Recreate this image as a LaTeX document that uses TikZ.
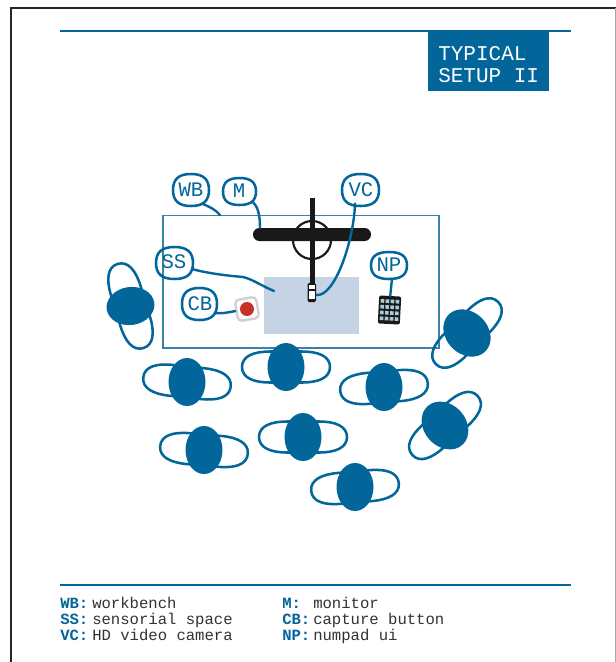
\documentclass[tikz,border=0pt]{standalone}
\usepackage{fontspec}
\setmonofont{Liberation Mono}
\definecolor{sblue}{HTML}{02669A}
\definecolor{rblue}{HTML}{3A80A8}
\definecolor{sens}{HTML}{C5D3E5}
\definecolor{txt}{HTML}{333333}
\definecolor{bred}{HTML}{C8302A}
\newcommand\blobshape[4]{%
  \pgfmathsetmacro\bxm{(#1+#3)/2}\pgfmathsetmacro\bym{(#2+#4)/2}%
  \pgfmathsetmacro\bdx{(#3-#1)*0.34}\pgfmathsetmacro\bdy{(#4-#2)*0.34}%
  \draw[blob] (#1,\bym) .. controls (#1,\bym-\bdy) and (\bxm-\bdx,#2) .. (\bxm,#2)
    .. controls (\bxm+\bdx,#2) and (#3,\bym-\bdy) .. (#3,\bym)
    .. controls (#3,\bym+\bdy) and (\bxm+\bdx,#4) .. (\bxm,#4)
    .. controls (\bxm-\bdx,#4) and (#1,\bym+\bdy) .. (#1,\bym) -- cycle;}
\tikzset{
  x=0.75pt,y=-0.75pt,
  pics/person/.style n args={3}{code={
    \draw[sblue,line width=1.9pt] (-44,0) .. controls (-44,-11) and (-32,-15.5) .. (-16,-15.5) -- (16,-15.5)
      .. controls (32,-15.5) and (44,-11) .. (44,0) .. controls (44,11) and (32,15.5) .. (16,15.5) -- (-16,15.5)
      .. controls (-32,15.5) and (-44,11) .. (-44,0) -- cycle;
    \fill[sblue,rotate=#1] (0,0) ellipse [x radius=#2,y radius=#3];
  }},
  lead/.style={sblue,line width=1.8pt,line cap=round},
  blob/.style={sblue,line width=1.9pt},
  tag/.style={text=sblue,font=\ttfamily\fontsize{15.5pt}{15.5pt}\selectfont,inner sep=0pt,minimum width=28pt,minimum height=20pt},
  titletext/.style={text=white,font=\ttfamily\fontsize{15.75pt}{15.75pt}\selectfont,inner sep=0pt,anchor=base west},
  legkey/.style={text=sblue,font=\ttfamily\bfseries\fontsize{11.7pt}{11.7pt}\selectfont,inner sep=0pt,anchor=base west},
  legval/.style={text=txt,font=\ttfamily\fontsize{11.7pt}{11.7pt}\selectfont,inner sep=0pt,anchor=base west},
}
\begin{document}
\begin{tikzpicture}
\useasboundingbox (0,0) rectangle (616,662);
\fill[white] (0,0) rectangle (616,662);
% page frame
\draw[black!85,line width=1.3pt] (11,662) -- (11,8) -- (616,8);
\draw[black!35,line width=0.6pt] (615,8) -- (615,662);
% header and footer
\draw[sblue,line width=2pt] (60,31) -- (571,31);
\fill[sblue] (428,31) rectangle (549,91);
\node[titletext] (t1) at (438,60) {TYPICAL};
\node[titletext] (t2) at (438,82) {SETUP II};
\draw[sblue,line width=2pt] (60,585) -- (571,585);
% workbench and contents
\fill[sens] (264,277) rectangle (359,333.5);
\draw[rblue,line width=1.2pt] (163,215.5) rectangle (439,348);
\draw[black!90,line width=1.6pt] (312,240) circle [radius=19];
\fill[black!90,rounded corners=4.8pt] (253,228) rectangle (371,241);
\fill[black!90] (309.7,198) rectangle (314.5,284);
% camera
\fill[black!90,rounded corners=1pt] (307.5,283) rectangle (316,302);
\fill[white] (308.7,284.5) rectangle (314.8,289);
\fill[white] (308.7,290.5) rectangle (314.8,298.5);
\coordinate (cam) at (316.5,295);
% capture button
\node[draw=black!18,line width=1.8pt,fill=white,rounded corners=3pt,minimum size=16pt,rotate=10,inner sep=0pt] (btn) at (247,309) {};
\node[circle,fill=bred,minimum size=10.5pt,inner sep=0pt] (dot) at (247,309) {};
% numpad
\begin{scope}[shift={(389.5,310)},rotate=-3]
  \fill[black!90,rounded corners=1.5pt] (-11,-14) rectangle (11,14);
  \foreach \i in {-1.5,-0.5,0.5,1.5}
    \foreach \j in {-1.5,-0.5,0.5,1.5}
      \fill[sblue!35!white] ({\i*5-1.8},{\j*5.8-1.8}) rectangle ({\i*5+1.8},{\j*5.8+1.8});
  \coordinate (pad) at (0,-14);
\end{scope}
% people
\pic[rotate=107] (p1) at (130.5,306) {person={-9}{19}{24}};
\pic[rotate=-6] (p2) at (187,382) {person={6}{18.5}{24}};
\pic (p3) at (286,367) {person={0}{18.5}{24}};
\pic[rotate=5] (p4) at (384,387) {person={-5}{18.5}{24}};
\pic[rotate=-5] (p5) at (204,450) {person={5}{18.5}{24}};
\pic (p6) at (303,437) {person={0}{18.5}{24}};
\pic[rotate=5] (p7) at (355,487) {person={-5}{18.5}{24}};
\pic[rotate=42] (p8) at (445,425.5) {person={0}{21}{26}};
\pic[rotate=45] (p9) at (467,333) {person={0}{21}{26}};
% callouts
\node[tag] (WB) at (191,190) {WB};
\node[tag] (M) at (239,191) {M};
\node[tag] (VC) at (361,190) {VC};
\node[tag] (SS) at (174,262) {SS};
\node[tag] (CB) at (200,304) {CB};
\node[tag] (NP) at (389,265) {NP};
\blobshape{173}{174}{209}{206}
\blobshape{223}{178}{256}{205}
\blobshape{342}{174}{379}{206}
\blobshape{156}{247}{193}{279}
\blobshape{182}{288}{217}{320}
\blobshape{371}{252}{407}{279}
% leaders
\coordinate (wbEnd) at (220,215);
\coordinate (mEnd) at (260,228);
\coordinate (ssEnd) at (274,291);
\draw[lead] (WB.south) ++(11,0) .. controls (210,207) and (216,210) .. (wbEnd);
\draw[lead] (M.south) ++(13,-3) .. controls (258,206) and (260,215) .. (mEnd);
\draw[lead] (VC.south) ++(-6,0) .. controls (354,240) and (335,297) .. (cam);
\draw[lead] (SS.east) ++(-1,7) .. controls (210,274) and (232,276) .. (243,277) .. controls (252,279) and (262,286) .. (ssEnd);
\draw[lead] (CB.east) ++(-4,9) .. controls (222,314) and (230,312) .. (btn.west);
\draw[lead] (NP.south) ++(3,0) -- (pad);
% legend
\node[legkey] (k1) at (60,608) {WB:};
\node[legval] (v1) at (92,608) {workbench};
\node[legkey] (k2) at (60,624.3) {SS:};
\node[legval] (v2) at (92,624.3) {sensorial space};
\node[legkey] (k3) at (60,640.7) {VC:};
\node[legval] (v3) at (92,640.7) {HD video camera};
\node[legkey] (k4) at (282,608) {M:};
\node[legval] (v4) at (313,608) {monitor};
\node[legkey] (k5) at (282,624.3) {CB:};
\node[legval] (v5) at (313,624.3) {capture button};
\node[legkey] (k6) at (282,640.7) {NP:};
\node[legval] (v6) at (313,640.7) {numpad ui};
\end{tikzpicture}
\end{document}
